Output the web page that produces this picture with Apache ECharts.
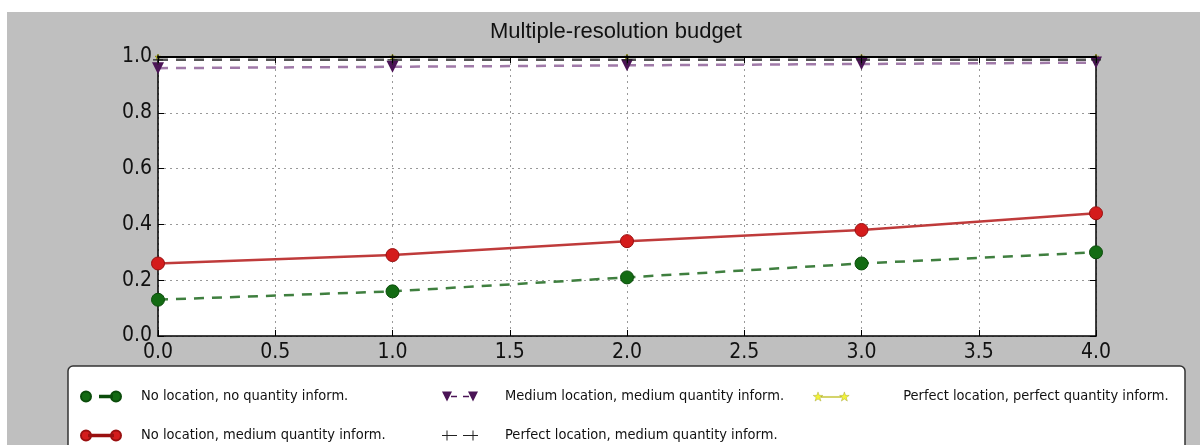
<!DOCTYPE html>
<html>
<head>
<meta charset="utf-8">
<title>Multiple-resolution budget</title>
<script src="https://cdn.jsdelivr.net/npm/echarts@6/dist/echarts.min.js"></script>
<style>
  html, body { margin: 0; padding: 0; background: #fff; }
  #chart { width: 1200px; height: 445px; }
</style>
</head>
<body>
<div id="chart"></div>
<script>
// Resolution steps along the x axis
const resolutionSteps = [0, 1, 2, 3, 4];

// Accuracy of each information scenario at each step
const noLocNoQty       = [0.13, 0.16, 0.21, 0.26, 0.30];
const noLocMedQty      = [0.26, 0.29, 0.34, 0.38, 0.44];
const medLocMedQty     = [0.96, 0.965, 0.97, 0.975, 0.98];
const perfLocMedQty    = [0.99, 0.99, 0.99, 0.99, 0.99];
const perfLocPerfQty   = [1.0, 1.0, 1.0, 1.0, 1.0];

const seriesNames = [
  'No location, no quantity inform.',
  'No location, medium quantity inform.',
  'Medium location, medium quantity inform.',
  'Perfect location, medium quantity inform.',
  'Perfect location, perfect quantity inform.'
];

const xTicks = { min: 0, max: 4, step: 0.5 };
const yTicks = { min: 0, max: 1, step: 0.2 };

const NARROW = '"DejaVu Sans Condensed", "Liberation Sans Narrow", "Roboto", sans-serif';

const pairs = vals => resolutionSteps.map((x, i) => [x, vals[i]]);

// marker glyphs
const PLUS = 'path://M0,4.4H10V5.6H0Z M4.4,0H5.6V10H4.4Z';
const STAR = 'path://M5,0L6.18,3.38L9.76,3.45L6.9,5.62L7.94,9.05L5,7L2.06,9.05L3.1,5.62L0.24,3.45L3.82,3.38Z';

// legend glyphs: two markers joined by the line style
const circ = cx => `M${cx - 5},5A5,5 0 1,1 ${cx + 5},5A5,5 0 1,1 ${cx - 5},5Z`;
const star = dx => `M${5 + dx},0L${6.18 + dx},3.38L${9.76 + dx},3.45L${6.9 + dx},5.62L${7.94 + dx},9.05L${5 + dx},7L${2.06 + dx},9.05L${3.1 + dx},5.62L${0.24 + dx},3.45L${3.82 + dx},3.38Z`;
const ICON_GREEN  = 'path://' + circ(5) + ' M19,4.2H31V5.8H19Z ' + circ(35);
const ICON_RED    = 'path://' + circ(5) + ' M8,4.3H32V5.7H8Z ' + circ(35);
const ICON_PURPLE = 'path://M0,0H10L5,10Z M9,4.3H15V5.7H9Z M21,4.3H27V5.7H21Z M26,0H36L31,10Z';
const ICON_BLACK  = 'path://M0,4.5H10V5.5H0Z M4.5,0H5.5V10H4.5Z M10,4.5H15V5.5H10Z M21,4.5H26V5.5H21Z M26,4.5H36V5.5H26Z M30.5,0H31.5V10H30.5Z';
const ICON_YELLOW = 'path://' + star(0) + ' M8,4.5H28V5.5H8Z ' + star(26);

const fmt1 = v => v.toFixed(1);

function legendItem(name, icon, left, top, w, textLeft, itemStyle) {
  const item = { name: name, icon: icon };
  if (itemStyle) item.itemStyle = itemStyle;
  return {
    data: [item],
    left: left,
    top: top,
    itemWidth: w,
    itemHeight: 10,
    orient: 'horizontal',
    padding: 0,
    selectedMode: false,
    textStyle: {
      fontFamily: NARROW,
      fontSize: 14.5,
      color: '#111',
      padding: [0, 0, 0, textLeft - (left + w + 5)]
    }
  };
}

const chart = echarts.init(document.getElementById('chart'), null, { renderer: 'canvas' });

chart.setOption({
  backgroundColor: '#ffffff',
  animation: false,
  title: {
    text: 'Multiple-resolution budget',
    left: 611,
    top: 16,
    textAlign: 'center',
    textStyle: { fontFamily: '"Liberation Sans", sans-serif', fontSize: 22, fontWeight: 'normal', color: '#111' }
  },
  graphic: [
    { type: 'rect', z: -10, silent: true, shape: { x: 7, y: 12, width: 1193, height: 433 }, style: { fill: '#bfbfbf' } },
    { type: 'rect', z: -5, silent: true, shape: { x: 68, y: 366, width: 1117, height: 110, r: 5 }, style: { fill: '#ffffff', stroke: '#333', lineWidth: 1.5 } }
  ],
  grid: {
    left: 158, right: 104, top: 57, bottom: 109,
    show: true, backgroundColor: '#ffffff', borderWidth: 0
  },
  xAxis: [
    {
      type: 'value', position: 'bottom',
      min: xTicks.min, max: xTicks.max, interval: xTicks.step,
      axisLine: { show: true, onZero: false, lineStyle: { color: '#000', width: 1.5 } },
      axisTick: { show: true, inside: true, length: 6, lineStyle: { color: '#000', width: 1 } },
      axisLabel: { formatter: fmt1, fontFamily: NARROW, fontSize: 21, color: '#111', margin: 6 },
      splitLine: { show: true, lineStyle: { color: '#999', width: 1, type: [2, 4] } }
    },
    {
      type: 'value', position: 'top', z: 5,
      min: xTicks.min, max: xTicks.max, interval: xTicks.step,
      axisLine: { show: true, onZero: false, lineStyle: { color: '#000', width: 2 } },
      axisTick: { show: true, inside: true, length: 6, lineStyle: { color: '#000', width: 1 } },
      axisLabel: { show: false },
      splitLine: { show: false }
    }
  ],
  yAxis: [
    {
      type: 'value', position: 'left',
      min: yTicks.min, max: yTicks.max, interval: yTicks.step,
      axisLine: { show: true, onZero: false, lineStyle: { color: '#000', width: 1.5 } },
      axisTick: { show: true, inside: true, length: 6, lineStyle: { color: '#000', width: 1 } },
      axisLabel: { formatter: fmt1, fontFamily: NARROW, fontSize: 21, color: '#111', margin: 6 },
      splitLine: { show: true, lineStyle: { color: '#999', width: 1, type: [2, 4] } }
    },
    {
      type: 'value', position: 'right',
      min: yTicks.min, max: yTicks.max, interval: yTicks.step,
      axisLine: { show: true, onZero: false, lineStyle: { color: '#000', width: 1.5 } },
      axisTick: { show: true, inside: true, length: 6, lineStyle: { color: '#000', width: 1 } },
      axisLabel: { show: false },
      splitLine: { show: false }
    }
  ],
  legend: [
    legendItem(seriesNames[0], ICON_GREEN, 80, 389, 40, 140),
    legendItem(seriesNames[1], ICON_RED, 80, 428, 40, 140),
    legendItem(seriesNames[2], ICON_PURPLE, 442, 389, 36, 505),
    legendItem(seriesNames[3], ICON_BLACK, 442, 428, 36, 505),
    legendItem(seriesNames[4], ICON_YELLOW, 813, 389, 36, 903, { color: '#f2f23a', borderColor: '#9a9a20', borderWidth: 0.4 })
  ],
  series: [
    {
      name: seriesNames[0], type: 'line', data: pairs(noLocNoQty),
      symbol: 'circle', symbolSize: 13, z: 3,
      lineStyle: { color: '#3f7f3f', width: 2.5, type: [10, 8] },
      itemStyle: { color: '#136b13', borderColor: '#0b4d0b', borderWidth: 1 }
    },
    {
      name: seriesNames[1], type: 'line', data: pairs(noLocMedQty),
      symbol: 'circle', symbolSize: 13, z: 3,
      lineStyle: { color: '#bf3b3b', width: 2.5 },
      itemStyle: { color: '#d41c1c', borderColor: '#9a1010', borderWidth: 1 }
    },
    {
      name: seriesNames[2], type: 'line', data: pairs(medLocMedQty),
      symbol: 'triangle', symbolRotate: 180, symbolSize: 12, z: 3,
      lineStyle: { color: '#a07aa8', width: 2.5, type: [10, 8] },
      itemStyle: { color: '#4b1456' }
    },
    {
      name: seriesNames[3], type: 'line', data: pairs(perfLocMedQty),
      symbol: PLUS, symbolSize: 10, z: 3,
      lineStyle: { color: '#555', width: 2.5, type: [10, 8] },
      itemStyle: { color: '#222' }
    },
    {
      name: seriesNames[4], type: 'line', data: pairs(perfLocPerfQty),
      symbol: STAR, symbolSize: 6, z: 2,
      lineStyle: { color: '#ffff55', width: 2 },
      itemStyle: { color: '#ffff55', borderColor: '#8a8a00', borderWidth: 0.8 }
    }
  ]
});
</script>
</body>
</html>
